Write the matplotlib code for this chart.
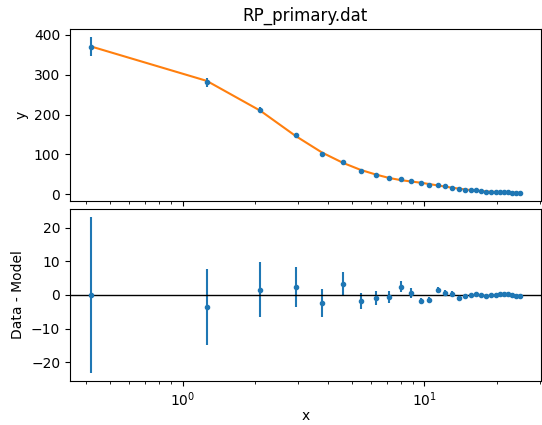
import matplotlib
matplotlib.use("Agg")
import matplotlib.pyplot as plt
import numpy as np

title = "RP_primary.dat"
x = [0.42, 1.26, 2.10, 2.94, 3.78, 4.62, 5.46, 6.30, 7.14, 7.98,
     8.82, 9.66, 10.50, 11.34, 12.18, 13.02, 13.86, 14.70, 15.54, 16.38,
     17.22, 18.06, 18.90, 19.74, 20.58, 21.42, 22.26, 23.10, 23.94, 24.78]
y = [370.6, 280.9, 211.1, 148.4, 102.1, 81.8, 59.1, 48.5, 40.5, 38.0,
     32.6, 27.2, 24.0, 23.8, 19.8, 16.9, 13.3, 11.8, 10.4, 9.4,
     8.1, 6.8, 6.5, 5.9, 5.7, 5.3, 4.9, 4.2, 3.4, 2.9]
yerr = [23.3, 11.3, 8.3, 5.9, 4.1, 3.7, 2.4, 2.1, 1.75, 1.6,
        1.6, 1.0, 1.0, 0.9, 0.8, 0.7, 0.65, 0.6, 0.55, 0.5,
        0.5, 0.45, 0.45, 0.4, 0.4, 0.4, 0.35, 0.35, 0.3, 0.3]
model = [370.6, 284.5, 209.5, 146.0, 104.5, 78.5, 61.0, 49.5, 41.0, 35.5,
         32.0, 29.0, 25.5, 22.2, 19.2, 16.5, 14.2, 12.2, 10.5, 9.1,
         8.0, 7.1, 6.4, 5.8, 5.3, 4.9, 4.5, 4.1, 3.7, 3.3]

W, H = 542, 425
fig = plt.figure(figsize=(W / 100, H / 100), dpi=100)
ax1 = fig.add_axes([70 / W, 1 - 201 / H, (541 - 70) / W, (201 - 29.5) / H])
ax2 = fig.add_axes([70 / W, 1 - 381 / H, (541 - 70) / W, (381 - 209) / H], sharex=ax1)

ax1.errorbar(x, y, yerr=yerr, fmt='.', color='C0')
ax1.plot(x, model, color='C1', lw=1.5)
ax1.set_xscale('log')
ax1.set_ylabel('y')
ax1.set_title(title)
ax1.tick_params(labelbottom=False)

resid = np.array(y) - np.array(model)
ax2.errorbar(x, resid, yerr=yerr, fmt='.', color='C0')
ax2.axhline(0, color='k', lw=1)
ax2.set_xscale('log')
ax2.set_xlabel('x', labelpad=0)
ax2.set_ylabel('Data - Model')

fig.savefig('out.png', dpi=100)
